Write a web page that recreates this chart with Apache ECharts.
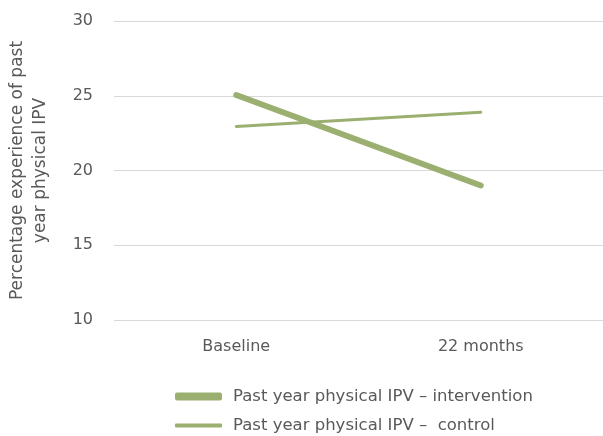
<!DOCTYPE html>
<html><head><meta charset="utf-8">
<script src="https://cdn.jsdelivr.net/npm/echarts@6/dist/echarts.min.js"></script>
<style>html,body{margin:0;padding:0;background:#fff}#c{width:603px;height:436px}</style>
</head><body><div id="c"></div>
<script>
const categories = ['Baseline', '22 months'];
const interventionValues = [25.05, 19.0];
const controlValues = [22.95, 23.9];
const seriesNames = ['Past year physical IPV \u2013 intervention', 'Past year physical IPV \u2013  control'];
const yTicks = {min: 10, max: 30, interval: 5};
const yName = 'Percentage experience of past\nyear physical IPV';

const color = '#9BB070';
const font = 'DejaVu Sans';
const chart = echarts.init(document.getElementById('c'), null, {renderer: 'canvas'});
chart.setOption({
  animation: false,
  textStyle: {fontFamily: font},
  grid: {left: 114, right: 0, top: 21, bottom: 116, containLabel: false, outerBoundsMode: 'none'},
  xAxis: {
    type: 'category', data: categories, boundaryGap: true,
    axisLine: {show: false}, axisTick: {show: false},
    axisLabel: {color: '#595959', fontSize: 16, fontFamily: font, margin: 19}
  },
  yAxis: {
    type: 'value', min: yTicks.min, max: yTicks.max, interval: yTicks.interval,
    name: yName, nameLocation: 'middle', nameRotate: 90, nameGap: 62,
    nameTextStyle: {color: '#595959', fontSize: 17, fontFamily: font, lineHeight: 23},
    axisLine: {show: false}, axisTick: {show: false},
    axisLabel: {color: '#595959', fontSize: 16, fontFamily: font, margin: 21},
    splitLine: {lineStyle: {color: '#d9d9d9', width: 1}}
  },
  legend: [
    {data: [seriesNames[0]], left: 175, top: 388, padding: 0, itemWidth: 47, itemHeight: 8, itemGap: 11,
     icon: 'roundRect', textStyle: {color: '#595959', fontSize: 16.5, fontFamily: font, padding: [0, 0, 0, 6]}},
    {data: [seriesNames[1]], left: 175, top: 417, padding: 0, itemWidth: 47, itemHeight: 4, itemGap: 11,
     icon: 'roundRect', textStyle: {color: '#595959', fontSize: 16.5, fontFamily: font, padding: [0, 0, 0, 6]}}
  ],
  series: [
    {name: seriesNames[0], type: 'line', data: interventionValues, symbol: 'none',
     lineStyle: {color: color, width: 6, cap: 'round'}, itemStyle: {color: color}},
    {name: seriesNames[1], type: 'line', data: controlValues, symbol: 'none',
     lineStyle: {color: color, width: 3, cap: 'round'}, itemStyle: {color: color}}
  ]
});
</script></body></html>
